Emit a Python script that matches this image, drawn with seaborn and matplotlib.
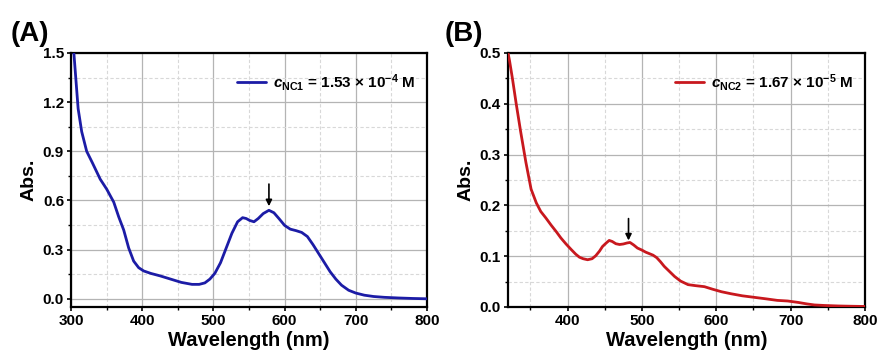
import matplotlib
matplotlib.use("Agg")
import matplotlib.pyplot as plt
import seaborn as sns
import pandas as pd
from matplotlib.ticker import MultipleLocator, FormatStrFormatter

# ---- data ----
wl_A = [300, 304, 310, 315, 322, 330, 341, 350, 360, 367,
        374, 381, 388, 395, 402, 412, 425, 440, 455, 470,
        480, 488, 495, 502, 510, 518, 526, 534, 541, 546,
        551, 557, 563, 570, 578, 585, 592, 600, 608, 616,
        624, 632, 640, 648, 656, 664, 672, 680, 690, 700,
        712, 725, 740, 760, 780, 800]
abs_A = [1.62, 1.50, 1.16, 1.02, 0.90, 0.83, 0.73, 0.67, 0.59, 0.50,
         0.42, 0.31, 0.23, 0.19, 0.17, 0.155, 0.14, 0.12, 0.10, 0.088,
         0.088, 0.097, 0.12, 0.155, 0.22, 0.31, 0.40, 0.47, 0.495, 0.49,
         0.478, 0.47, 0.49, 0.52, 0.54, 0.525, 0.49, 0.448, 0.425, 0.416,
         0.405, 0.38, 0.33, 0.275, 0.22, 0.165, 0.12, 0.083, 0.052, 0.035,
         0.022, 0.014, 0.009, 0.005, 0.002, 0.0]

wl_B = [320, 322, 326, 331, 337, 344, 351, 358, 364, 371,
        378, 385, 391, 398, 405, 411, 416, 421, 427, 433,
        438, 443, 447, 452, 456, 460, 465, 470, 475, 480,
        484, 489, 494, 500, 505, 510, 515, 520, 525, 530,
        537, 544, 552, 562, 572, 584, 595, 607, 620, 635,
        651, 667, 682, 696, 710, 722, 732, 745, 764, 780,
        800]
abs_B = [0.50, 0.485, 0.449, 0.40, 0.345, 0.285, 0.232, 0.205, 0.188, 0.175,
         0.161, 0.148, 0.136, 0.124, 0.113, 0.104, 0.098, 0.095, 0.093, 0.095,
         0.101, 0.110, 0.119, 0.126, 0.131, 0.129, 0.1245, 0.123, 0.124, 0.126,
         0.127, 0.122, 0.116, 0.112, 0.108, 0.105, 0.102, 0.097, 0.089, 0.080,
         0.070, 0.060, 0.051, 0.044, 0.042, 0.040, 0.035, 0.030, 0.026, 0.022,
         0.019, 0.016, 0.013, 0.0118, 0.009, 0.006, 0.004, 0.003, 0.002, 0.0015,
         0.001]

label_A = r"$c_{\mathrm{NC1}}$ = 1.53 × 10$^{\mathrm{-4}}$ M"
label_B = r"$c_{\mathrm{NC2}}$ = 1.67 × 10$^{\mathrm{-5}}$ M"
arrow_A = (578, 0.70, 0.565)   # x, tail y, head y
arrow_B = (482, 0.174, 0.131)

sns.set_theme(style="white")
plt.rcParams["font.family"] = ["Liberation Sans", "DejaVu Sans"]
plt.rcParams["font.weight"] = "bold"
plt.rcParams["text.color"] = "black"
plt.rcParams["axes.labelcolor"] = "black"
plt.rcParams["xtick.color"] = "black"
plt.rcParams["ytick.color"] = "black"
plt.rcParams["mathtext.fontset"] = "custom"
plt.rcParams["mathtext.rm"] = "Liberation Sans:bold"
plt.rcParams["mathtext.it"] = "Liberation Sans:italic:bold"
plt.rcParams["mathtext.bf"] = "Liberation Sans:bold"

fig = plt.figure(figsize=(8.8, 3.58), dpi=100)
axA = fig.add_axes([0.0807, 0.1425, 0.4045, 0.7095])
axB = fig.add_axes([0.5773, 0.1425, 0.4057, 0.7095])

dfA = pd.DataFrame({"wl": wl_A, "abs": abs_A})
dfB = pd.DataFrame({"wl": wl_B, "abs": abs_B})

sns.lineplot(data=dfA, x="wl", y="abs", ax=axA, color="#1c1ca6", lw=2.0,
             label=label_A, zorder=5)
sns.lineplot(data=dfB, x="wl", y="abs", ax=axB, color="#c8181e", lw=2.0,
             label=label_B, zorder=5)

def style(ax, xlim, ylim, ymaj, ymin_):
    ax.set_xlim(*xlim)
    ax.set_ylim(*ylim)
    ax.xaxis.set_major_locator(MultipleLocator(100))
    ax.xaxis.set_minor_locator(MultipleLocator(50))
    ax.yaxis.set_major_locator(MultipleLocator(ymaj))
    ax.yaxis.set_minor_locator(MultipleLocator(ymin_))
    ax.yaxis.set_major_formatter(FormatStrFormatter("%.1f"))
    ax.grid(which="major", color="#b4b4b4", lw=0.9, ls="-")
    ax.grid(which="minor", color="#d8d8d8", lw=0.8, ls=(0, (3, 2)))
    ax.set_axisbelow(True)
    for s in ax.spines.values():
        s.set_color("black")
        s.set_linewidth(1.6)
        s.set_visible(True)
    ax.tick_params(which="major", direction="out", length=3, width=1.2,
                   labelsize=11, colors="black", pad=2,
                   left=True, bottom=True)
    ax.tick_params(which="minor", direction="out", length=2, width=1.0,
                   left=True, bottom=True)
    for t in ax.get_xticklabels() + ax.get_yticklabels():
        t.set_fontweight("bold")
    ax.set_xlabel("Wavelength (nm)", fontsize=14.5, fontweight="bold",
                  labelpad=2, color="black")
    ax.set_ylabel("Abs.", fontsize=14, fontweight="bold", labelpad=4,
                  color="black")
    leg = ax.legend(loc="upper right", bbox_to_anchor=(1.0, 0.975),
                    frameon=False, fontsize=11,
                    handlelength=1.9, handletextpad=0.4,
                    borderaxespad=0.4)
    for t in leg.get_texts():
        t.set_fontweight("bold")
        t.set_color("black")

style(axA, (300, 800), (-0.05, 1.5), 0.3, 0.15)
style(axB, (320, 800), (0.0, 0.5), 0.1, 0.05)

for ax, (x, y0, y1) in ((axA, arrow_A), (axB, arrow_B)):
    ax.annotate("", xy=(x, y1), xytext=(x, y0),
                arrowprops=dict(arrowstyle="-|>", color="black", lw=1.2,
                                mutation_scale=9, shrinkA=0, shrinkB=0),
                zorder=6)

fig.text(0.012, 0.885, "(A)", fontsize=20, fontweight="bold", color="black")
fig.text(0.505, 0.885, "(B)", fontsize=20, fontweight="bold", color="black")

fig.savefig("out.png", dpi=100)
